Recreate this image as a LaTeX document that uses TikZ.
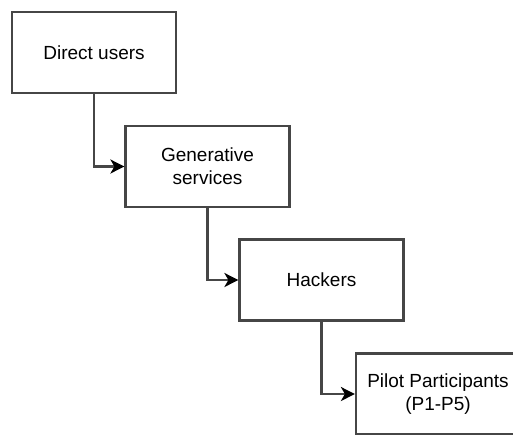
\documentclass[tikz,border=0pt]{standalone}
\usepackage{fontspec}
\setmainfont{Liberation Sans}
\usetikzlibrary{arrows.meta}
\definecolor{edgegray}{RGB}{70,70,70}
\begin{document}
\begin{tikzpicture}[x=1pt,y=-1pt,
  stagebox/.style={draw=edgegray, line width=2.2pt, fill=white, rectangle,
    minimum width=164pt, minimum height=81pt, inner sep=2pt, align=center,
    font=\fontsize{19}{23}\selectfont},
  flow/.style={draw=edgegray, line width=2.2pt,
    -{Stealth[length=14pt,width=14pt,inset=4pt,black]}}]
  \useasboundingbox (0,0) rectangle (513,434);
  \clip (0,0) rectangle (513,434);
  \fill[white] (0,0) rectangle (513,434);

  % stages, each stepped down and to the right
  \node[stagebox] (direct)  at (94,52.5)    {Direct users};
  \node[stagebox] (gen)     at (207.5,166.5) {Generative\\services};
  \node[stagebox] (hack)    at (321.5,280)  {Hackers};
  \node[stagebox] (pilot)   at (438,394)    {Pilot Participants\\(P1-P5)};

  % elbow connectors: down from each box, then right into the next
  \draw[flow] (direct.south) |- (gen.west);
  \draw[flow] (gen.south)    |- (hack.west);
  \draw[flow] (hack.south)   |- (pilot.west);
\end{tikzpicture}
\end{document}
